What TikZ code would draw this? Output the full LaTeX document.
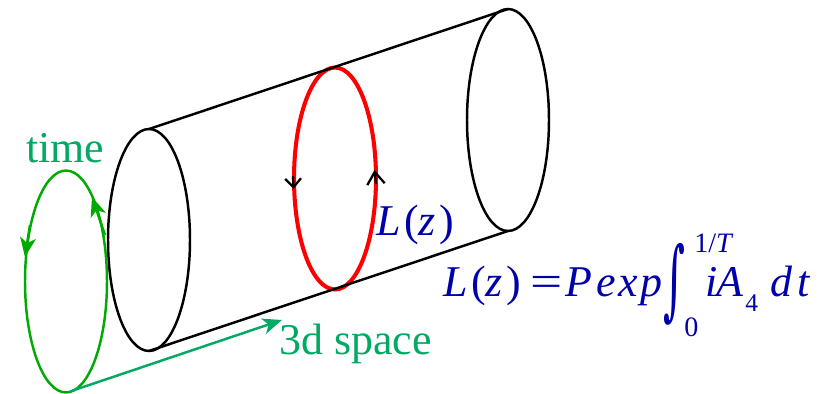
\documentclass[tikz,border=0pt]{standalone}
\usepackage{fontspec}
\usepackage{graphicx}
\setmainfont{Liberation Serif}
\newfontfamily\intfont{DejaVu Serif}
\usetikzlibrary{arrows.meta,positioning,shapes.geometric}
\definecolor{loopgreen}{RGB}{0,170,0}
\definecolor{labelgreen}{RGB}{0,170,100}
\definecolor{labelblue}{RGB}{0,0,170}
\newcommand{\bigtxt}{\fontsize{25}{29}\selectfont}
\newcommand{\limtxt}{\fontsize{14.5}{16}\selectfont}

\begin{document}
\begin{tikzpicture}[x=0.02cm,y=-0.02cm]
\tikzset{ring/.style={ellipse,draw,line width=1.4pt,minimum width=1.64cm,minimum height=4.44cm,inner sep=0pt,outer sep=0pt}}
\tikzset{lbl/.style={anchor=base west,inner sep=0pt,font=\bigtxt}}
\tikzset{lim/.style={anchor=base west,inner sep=0pt,text=labelblue,font=\fontsize{16}{18}\selectfont}}
\tikzset{greentip/.style={-{Stealth[length=11pt,width=9pt,inset=3pt]},line width=1.4pt}}
\useasboundingbox (0,0) rectangle (829,394);
\node[ring] (cyla) at (149,240) {};
\node[ring] (cylb) at (508,120) {};
\node[ring,draw=red,line width=2.3pt] (wilson) at (335,178.5) {};
\node[ring,draw=loopgreen] (timeloop) at (66,281.5) {};
\draw[line width=1.4pt] (cyla.north) -- (cylb.north);
\draw[line width=1.4pt] (cyla.south) -- (cylb.south);
% arrows on the loops
\coordinate (wla) at (293,176);
\coordinate (wlb) at (293.5,189);
\coordinate (wra) at (376,184);
\coordinate (wrb) at (374.5,170);
\draw[-{Straight Barb[length=5pt,width=9pt]},line width=1.3pt] (wla) -- (wlb);
\draw[-{Straight Barb[length=7pt,width=10pt]},line width=1.3pt] (wra) -- (wrb);
\coordinate (tla) at (105,235);
\coordinate (tlb) at (92,197);
\coordinate (tra) at (30,225);
\coordinate (trb) at (25,257);
\draw[greentip,draw=loopgreen,fill=loopgreen] (tla) -- (tlb);
\draw[greentip,draw=loopgreen,fill=loopgreen] (tra) -- (trb);
\coordinate (spaceend) at (282,320);
\draw[greentip,draw=labelgreen,fill=labelgreen] (timeloop.south) ++(4,-1) -- (spaceend);
\node[lbl,text=labelgreen] (timelbl) at (26,163) {time};
\node[lbl,text=labelgreen] (spacelbl) at (279,355) {3d space};
\node[lbl,text=labelblue] (wilsonlbl) at (376,236) {\textit{L}\kern2pt(\textit{z}\kern2pt)};
\node[lbl,text=labelblue] (eqleft) at (443,297) {\textit{L}\kern2pt(\textit{z}\kern2pt)\kern5.5pt\scalebox{1.3}[1]{=}\kern1.5pt\textit{P\kern2pt e\kern1.5pt x\kern1.5pt p}};
\node[inner sep=0pt,text=labelblue] (eqint) at (674,284) {\resizebox*{0.44cm}{1.64cm}{\intfont ∫}};
\node[lim] (uplim) at (694,253) {1/\textit{T}};
\node[lim] (lowlim) at (684,337) {0};
\node[lbl,text=labelblue] (eqright) at (705,297) {\textit{i\kern-0.5pt A}\kern1pt\raisebox{-8pt}{\limtxt 4}\kern7pt\textit{d\kern3pt t}};
\end{tikzpicture}
\end{document}
